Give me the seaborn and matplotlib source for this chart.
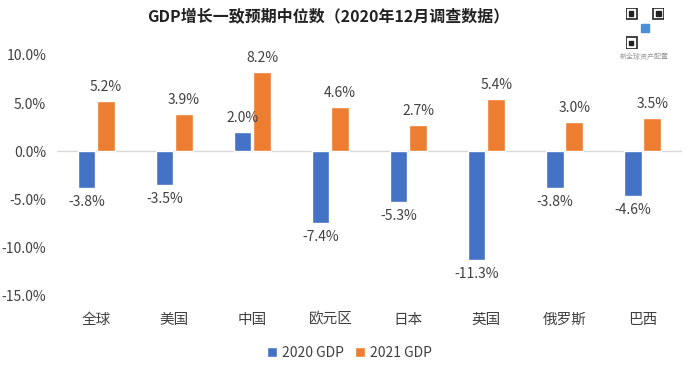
import matplotlib
matplotlib.use("Agg")
import matplotlib.pyplot as plt
import seaborn as sns
import pandas as pd
import numpy as np

categories = ["全球", "美国", "中国", "欧元区", "日本", "英国", "俄罗斯", "巴西"]
gdp_2020 = [-3.8, -3.5, 2.0, -7.4, -5.3, -11.3, -3.8, -4.6]
gdp_2021 = [5.2, 3.9, 8.2, 4.6, 2.7, 5.4, 3.0, 3.5]
series_names = ["2020 GDP", "2021 GDP"]
yticks = [-15, -10, -5, 0, 5, 10]
title = "GDP增长一致预期中位数（2020年12月调查数据）"

sns.set_theme(style="white")
plt.rcParams["font.family"] = ["Noto Sans CJK SC", "DejaVu Sans"]

df = pd.DataFrame({
    "cat": categories * 2,
    "val": gdp_2020 + gdp_2021,
    "series": [series_names[0]] * len(categories) + [series_names[1]] * len(categories),
})

colors = ["#4472C4", "#ED7D31"]
fig = plt.figure(figsize=(6.99, 3.76), dpi=100)
ax = fig.add_axes([0.082, 0.213, 0.893, 0.641])
sns.barplot(data=df, x="cat", y="val", hue="series", palette=colors,
            width=0.5, gap=0.1, ax=ax, legend=True, saturation=1)

ax.set_ylim(-15, 10)
ax.set_yticks(yticks)
ax.set_yticklabels([f"{v:.1f}%" for v in yticks], fontsize=10, color="#404040")
ax.tick_params(axis="x", labelsize=10.5, colors="#404040", pad=12, length=0)
ax.tick_params(axis="y", length=0, pad=8)
ax.set_xlabel("")
ax.set_ylabel("")
for s in ax.spines.values():
    s.set_visible(False)
ax.axhline(0, color="#D9D9D9", lw=1, zorder=0)

for cont in ax.containers:
    for bar in cont:
        h = bar.get_height()
        x = bar.get_x() + bar.get_width() / 2
        if h >= 0:
            ax.annotate(f"{h:.1f}%", (x, h), xytext=(0, 5), textcoords="offset points",
                        ha="center", va="bottom", fontsize=10, color="#404040")
        else:
            ax.annotate(f"{h:.1f}%", (x, h), xytext=(0, -5), textcoords="offset points",
                        ha="center", va="top", fontsize=10, color="#404040")

handles, labels = ax.get_legend_handles_labels()
ax.legend_.remove()
fig.legend(handles, labels, loc="center", bbox_to_anchor=(0.5, 0.062), ncol=2,
           frameon=False, fontsize=10, handlelength=0.7, handleheight=0.7,
           columnspacing=0.8, handletextpad=0.4, labelcolor="#404040")

fig.text(0.47, 0.955, title, ha="center", va="center", fontsize=11.5,
         fontweight="bold", color="#222222")

# QR-like badge and caption
qa = fig.add_axes([0.895, 0.87, 0.055, 0.11])
qa.set_xlim(0, 7)
qa.set_ylim(0, 7)
qa.axis("off")
for (x0, y0) in [(0, 0), (0, 5), (5, 5)]:
    qa.add_patch(plt.Rectangle((x0, y0), 2, 2, fill=False, lw=1.2, ec="#222222"))
    qa.add_patch(plt.Rectangle((x0 + 0.6, y0 + 0.6), 0.8, 0.8, color="#222222"))
qa.add_patch(plt.Rectangle((2.8, 2.8), 1.4, 1.4, color="#4A90D9"))
fig.text(0.922, 0.848, "新全球资产配置", ha="center", va="center", fontsize=5, color="#999999")

fig.savefig("out.png", dpi=100)
